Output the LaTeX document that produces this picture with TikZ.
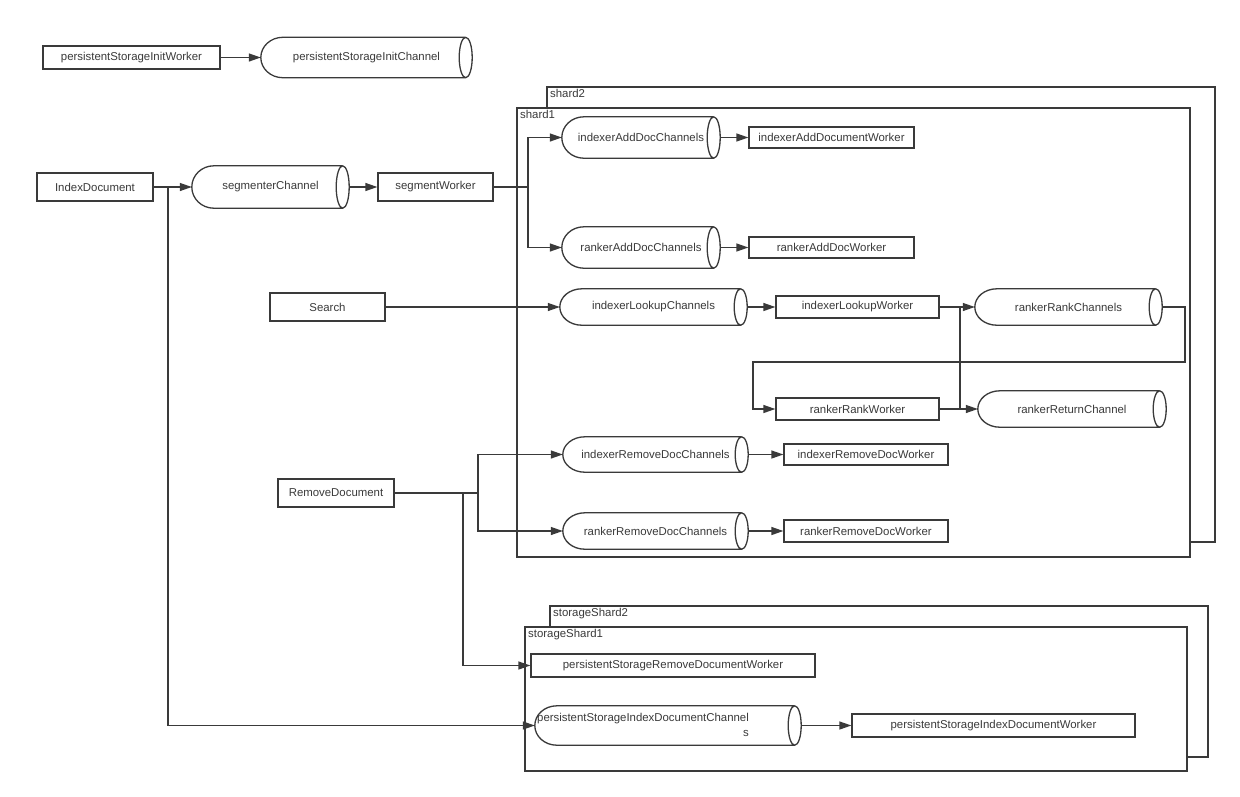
\documentclass[tikz,border=0pt]{standalone}
\usepackage{fontspec}
\setmainfont{Liberation Sans}
\usetikzlibrary{arrows.meta,calc}
\definecolor{ink}{HTML}{3A3A3A}
\tikzset{
  worker/.style 2 args={draw=ink, line width=1.3pt, fill=white, inner sep=0pt, minimum width=#1pt, minimum height=#2pt},
  chan/.style 2 args={inner sep=0pt, minimum width=#1pt, minimum height=#2pt},
  frame/.style={draw=ink, line width=1.5pt, fill=white},
  link/.style={ink, line width=1.3pt},
  lbl/.style={anchor=north west, inner sep=1pt}
}
% cylinder outline round a channel node: round left end, ellipse at the right
\newcommand{\chanoutline}[1]{%
  \draw[link] let \p1=(#1.north east), \p2=(#1.south west), \n1={(\y1-\y2)/2} in
    ([xshift=-6.5pt]#1.north east) arc[start angle=90, end angle=450, x radius=6.5pt, y radius=\n1]
    ([xshift=-6.5pt]#1.north east) -- ([xshift=22pt]#1.north west)
    arc[start angle=90, end angle=270, x radius=22pt, y radius=\n1] -- ([xshift=-6.5pt]#1.south east);}
\begin{document}
\begin{tikzpicture}[x=1pt, y=-1pt, >={Triangle[length=12pt, width=8pt]},
    font=\fontsize{11.4}{15}\selectfont, every node/.style={text=ink}]
\useasboundingbox (0,0) rectangle (1240,796);
% frames
\draw[frame] (547,87) rectangle (1215,542);
\draw[frame] (517,108) rectangle (1190,557);
\draw[frame] (550,606) rectangle (1208,757);
\draw[frame] (525,627) rectangle (1187,771);
\node[lbl] (shardTwoLbl) at (549,88) {shard2};
\node[lbl] (shardOneLbl) at (519,109) {shard1};
\node[lbl] (storTwoLbl) at (552,607) {storageShard2};
\node[lbl] (storOneLbl) at (527,628) {storageShard1};
% workers
\node[worker={177}{23}] (initWorker) at (131.5,57.5) {persistentStorageInitWorker};
\node[worker={116}{28}] (indexDoc) at (95,187) {IndexDocument};
\node[worker={115}{28}] (segWorker) at (435.5,187) {segmentWorker};
\node[worker={165}{21}] (addIdxWorker) at (831.5,137.5) {indexerAddDocumentWorker};
\node[worker={165}{21}] (addRankWorker) at (831.5,247.5) {rankerAddDocWorker};
\node[worker={115}{28}] (search) at (327.5,307) {Search};
\node[worker={163}{22}] (lookupWorker) at (857.5,307) {indexerLookupWorker};
\node[worker={163}{22}] (rankWorker) at (857.5,409) {rankerRankWorker};
\node[worker={116}{28}] (removeDoc) at (336,493) {RemoveDocument};
\node[worker={164}{21}] (rmIdxWorker) at (866,454.5) {indexerRemoveDocWorker};
\node[worker={164}{22}] (rmRankWorker) at (866,531) {rankerRemoveDocWorker};
\node[worker={284}{23}] (psRmWorker) at (673,665.5) {persistentStorageRemoveDocumentWorker};
\node[worker={283}{23}] (psIdxWorker) at (993.5,725.5) {persistentStorageIndexDocumentWorker};
% channels
\node[chan={211}{40}] (initChan) at (366.5,57.5) {persistentStorageInitChannel};
\node[chan={157}{42}] (segChan) at (270.5,187) {segmenterChannel};
\node[chan={158}{41}] (addIdxChan) at (641,137.5) {indexerAddDocChannels};
\node[chan={158}{41}] (addRankChan) at (641,247.5) {rankerAddDocChannels};
\node[chan={187}{36}] (lookupChan) at (653.5,307) {indexerLookupChannels};
\node[chan={187}{36}] (rankChan) at (1068.5,307) {rankerRankChannels};
\node[chan={188}{36}] (returnChan) at (1072,409) {rankerReturnChannel};
\node[chan={185}{35}] (rmIdxChan) at (655.5,454.5) {indexerRemoveDocChannels};
\node[chan={185}{36}] (rmRankChan) at (655.5,531) {rankerRemoveDocChannels};
\node[chan={266}{39}] (psIdxChan) at (668,725.5) {\begin{tabular}{@{}r@{}}persistentStorageIndexDocumentChannel\\s\end{tabular}\hspace*{50pt}};
\foreach \c in {initChan,segChan,addIdxChan,addRankChan,lookupChan,rankChan,returnChan,rmIdxChan,rmRankChan,psIdxChan}
  \chanoutline{\c};
% branch points
\coordinate (jIdx) at (168,187);
\coordinate (jSeg) at (528,187);
\coordinate (jLook) at (960,307);
\coordinate (jRank) at (960,409);
\coordinate (loopR) at (1185,362);
\coordinate (loopL) at (753,362);
\coordinate (jRm) at (478,493);
\coordinate (jRm2) at (463,493);
% connectors
\draw[link,->] (initWorker.east) -- (initChan.west);
\draw[link,->] (indexDoc.east) -- (segChan.west);
\draw[link,->] (jIdx) |- (psIdxChan.west);
\draw[link,->] (segChan.east) -- (segWorker.west);
\draw[link] (segWorker.east) -- (jSeg);
\draw[link,->] (jSeg) |- (addIdxChan.west);
\draw[link,->] (jSeg) |- (addRankChan.west);
\draw[link,->] (addIdxChan.east) -- (addIdxWorker.west);
\draw[link,->] (addRankChan.east) -- (addRankWorker.west);
\draw[link,->] (search.east) -- (lookupChan.west);
\draw[link,->] (lookupChan.east) -- (lookupWorker.west);
\draw[link] (lookupWorker.east) -- (jLook) -- (jRank);
\draw[link,->] (jLook) -- (rankChan.west);
\draw[link,->] (rankChan.east) -| (loopR) -- (loopL) |- (rankWorker.west);
\draw[link] (rankWorker.east) -- (jRank);
\draw[link,->] (jRank) -- (returnChan.west);
\draw[link] (removeDoc.east) -- (jRm);
\draw[link,->] (jRm) |- (rmIdxChan.west);
\draw[link,->] (jRm) |- (rmRankChan.west);
\draw[link,->] (jRm2) |- (psRmWorker.west);
\draw[link,->] (rmIdxChan.east) -- (rmIdxWorker.west);
\draw[link,->] (rmRankChan.east) -- (rmRankWorker.west);
\draw[link,->] (psIdxChan.east) -- (psIdxWorker.west);
\end{tikzpicture}
\end{document}
